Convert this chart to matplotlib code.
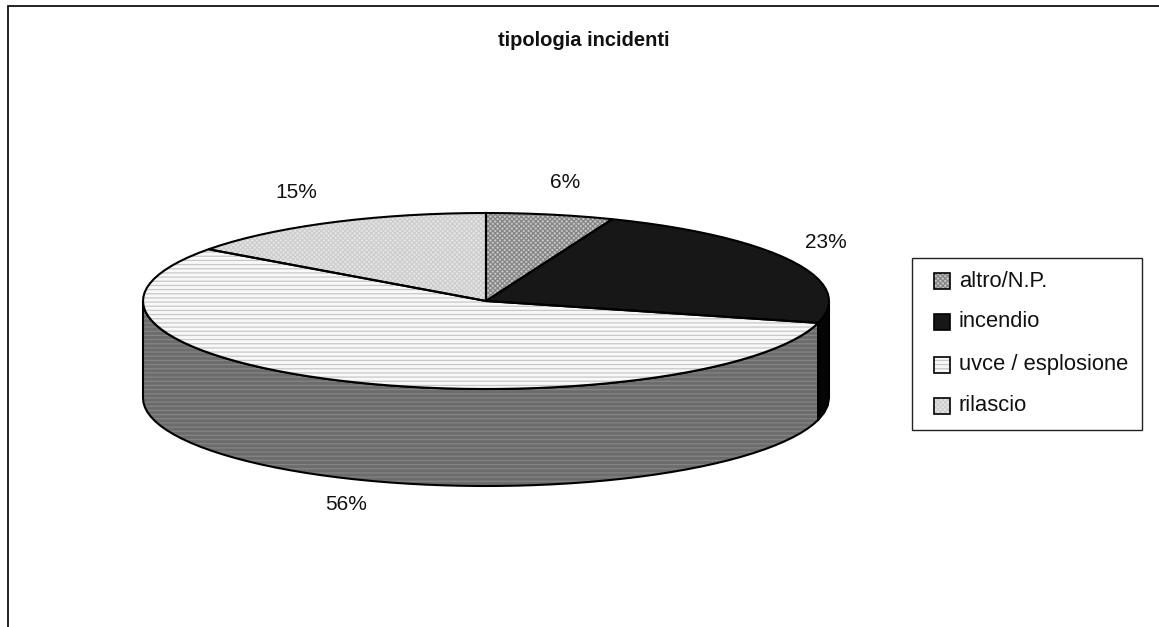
import numpy as np
import matplotlib
matplotlib.use("Agg")
import matplotlib.pyplot as plt
from matplotlib.patches import Polygon, Rectangle

labels = ["altro/N.P.", "incendio", "uvce / esplosione", "rilascio"]
values = [6, 23, 56, 15]
pct_labels = ["6%", "23%", "56%", "15%"]

top_colors = ["#c6c6c6", "#171717", "#f8f8f8", "#e6e6e6"]
hatch_colors = ["#858585", "#171717", "#c8c8c8", "#cdcdcd"]
hatches = ["xxxxxxx", None, "----", "xxxxxxx"]
side_colors = ["#707070", "#050505", "#6c6c6c", "#787878"]
side_hatch = ["#707070", "#050505", "#848484", "#787878"]

# ellipse of the disc, in pixels
cx, cy = 486, 301
rx, ry = 343, 88
depth = 97

plt.rcParams["font.family"] = ["Liberation Sans", "DejaVu Sans"]
plt.rcParams["hatch.linewidth"] = 0.9

fig = plt.figure(figsize=(11.59, 6.27), dpi=100)
ax = fig.add_axes([0, 0, 1, 1])
ax.set_xlim(0, 1159)
ax.set_ylim(627, 0)
ax.axis("off")


def rim(a, b):
    t = np.radians(np.linspace(a, b, max(int(abs(b - a) / 3), 2)))
    return cx + rx * np.sin(t), cy - ry * np.cos(t)


# outer chart border, open on the right and bottom
ax.plot([7.5, 7.5, 1159], [627, 5.5, 5.5], color="#111111", lw=1.3, solid_joinstyle="miter")

edges = 360 * np.cumsum([0] + values) / sum(values)

# side wall first, only the front half of the rim shows
for i in range(len(values)):
    a = max(edges[i], 90)
    b = min(edges[i + 1], 270)
    if a >= b:
        continue
    x, y = rim(a, b)
    xs = np.r_[x, x[::-1]]
    ys = np.r_[y, y[::-1] + depth]
    ax.add_patch(Polygon(np.c_[xs, ys], facecolor=side_colors[i], edgecolor=side_hatch[i],
                         hatch="----", lw=0, zorder=2))
    ax.add_patch(Polygon(np.c_[xs, ys], fill=False, edgecolor="black", lw=1.5, zorder=3))

# top of the disc
for i in range(len(values)):
    x, y = rim(edges[i], edges[i + 1])
    xs = np.r_[cx, x]
    ys = np.r_[cy, y]
    ax.add_patch(Polygon(np.c_[xs, ys], facecolor=top_colors[i], edgecolor=hatch_colors[i],
                         hatch=hatches[i], lw=0, zorder=4))
    ax.add_patch(Polygon(np.c_[xs, ys], fill=False, edgecolor="black", lw=1.5, zorder=5))

ax.text(583.5, 40, "tipologia incidenti", ha="center", va="center", fontsize=14.5, fontweight="bold", color="#111111")

# percent labels sit outside the rim
pct_pos = [(565, 182), (826, 242), (346, 505), (296, 192)]
for s, (px, py) in zip(pct_labels, pct_pos):
    ax.text(px, py, s, ha="center", va="center", fontsize=15, color="#111111")

# legend box
ax.add_patch(Rectangle((912, 258), 230, 172, facecolor="white", edgecolor="#222222", lw=1.0, zorder=6))
swatch_y = [281, 322, 365, 406]
text_y = [287, 327, 370, 411]
for i, name in enumerate(labels):
    y = swatch_y[i]
    ax.add_patch(Rectangle((933.5, y - 8), 16, 16, facecolor=top_colors[i], edgecolor=hatch_colors[i],
                           hatch=hatches[i], lw=0, zorder=7))
    ax.add_patch(Rectangle((933.5, y - 8), 16, 16, fill=False, edgecolor="black", lw=1.2, zorder=8))
    ax.text(959, text_y[i], name, ha="left", va="baseline", fontsize=15.8, color="#111111", zorder=8)

fig.savefig("out.png", dpi=100)
